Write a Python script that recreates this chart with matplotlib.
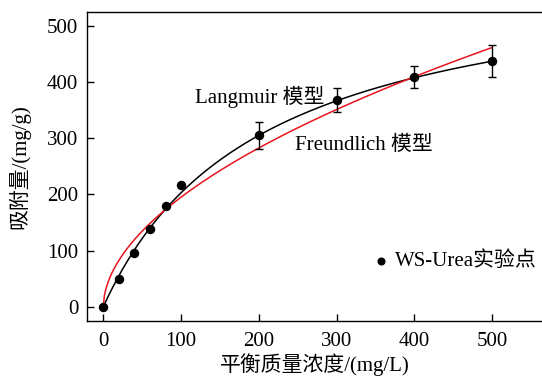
import numpy as np
import matplotlib
matplotlib.use("Agg")
import matplotlib.pyplot as plt

plt.rcParams['font.family'] = ['Liberation Serif', 'Noto Sans CJK SC']
plt.rcParams['axes.unicode_minus'] = False

# Equilibrium concentration (mg/L) and adsorption capacity (mg/g)
conc = [0, 20, 40, 60, 80, 100, 200, 300, 400, 500]
uptake = [0, 49, 95, 139, 179, 217, 305, 368, 409, 437]
uptake_err = [0, 0, 0, 0, 0, 0, 24, 22, 20, 28]

# Isotherm model parameters
langmuir_qm = 614.2
langmuir_k = 0.004932
freundlich_kf = 16.6
freundlich_inv_n = 0.535

x_ticks = [0, 100, 200, 300, 400, 500]
y_ticks = [0, 100, 200, 300, 400, 500]

fig = plt.figure(figsize=(5.42, 3.78), dpi=100)
ax = fig.add_axes([0.1596, 0.1508, 0.8441, 0.8182])

c_fit = np.linspace(0, 500, 400)
q_lang = langmuir_qm * langmuir_k * c_fit / (1 + langmuir_k * c_fit)
q_freu = freundlich_kf * c_fit ** freundlich_inv_n

ax.plot(c_fit, q_lang, color='black', lw=1.1, zorder=2)
ax.plot(c_fit, q_freu, color='#e8141c', lw=1.1, zorder=2)

yerr = np.array(uptake_err, dtype=float)
mask = yerr > 0
ax.errorbar(np.array(conc)[mask], np.array(uptake)[mask], yerr=yerr[mask],
            fmt='none', ecolor='black', elinewidth=1.0, capsize=3, capthick=1.0, zorder=3)
ax.plot(conc, uptake, 'o', color='black', ms=5.8, zorder=4)

ax.text(118, 373, 'Langmuir 模型', fontsize=15, va='center', ha='left')
ax.text(247, 287, 'Freundlich 模型', fontsize=15, va='center', ha='left')

# legend entry drawn as marker + label
ax.plot([357], [82], 'o', color='black', ms=4.8, zorder=4)
ax.text(375, 82, 'WS-Urea实验点', fontsize=15, va='center', ha='left')

ax.set_xlim(-21.6, 566.5)
ax.set_ylim(-25.4, 525)
ax.set_xticks(x_ticks)
ax.set_yticks(y_ticks)
ax.tick_params(axis='x', pad=8)
ax.tick_params(axis='y', pad=6)
ax.tick_params(direction='in', length=5, width=1.0, labelsize=15, top=False, right=False)
for s in ax.spines.values():
    s.set_linewidth(1.0)

ax.set_xlabel('平衡质量浓度/(mg/L)', fontsize=15, labelpad=1.5)
ax.set_ylabel('吸附量/(mg/g)', fontsize=15, labelpad=12)

fig.savefig('out.png', dpi=100)
